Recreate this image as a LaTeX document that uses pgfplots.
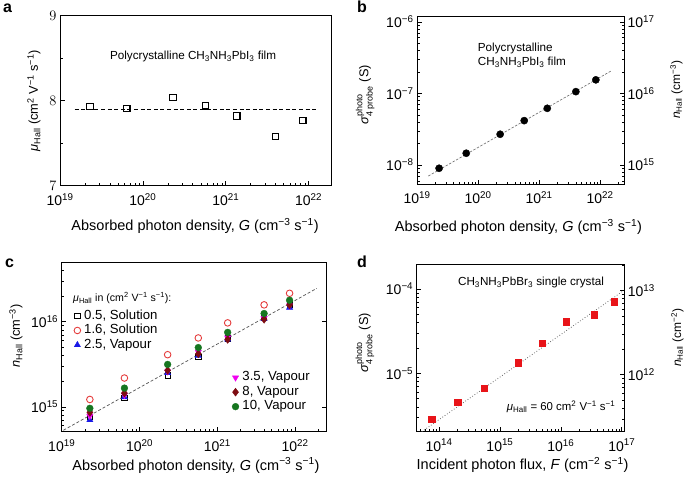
\documentclass[border=0pt]{standalone}
\usepackage{fontspec}
\setmainfont{Liberation Sans}
\usepackage{amsmath}
\usepackage{pgfplots}
\pgfplotsset{compat=1.18}

\definecolor{cred}{RGB}{228,60,60}
\definecolor{sqred}{RGB}{232,20,25}
\definecolor{cblue}{RGB}{25,25,230}
\definecolor{cmag}{RGB}{240,0,240}
\definecolor{cdia}{RGB}{125,12,18}
\definecolor{cgreen}{RGB}{22,118,32}
\definecolor{lgray}{RGB}{105,105,105}

\newcommand\fsz[1]{\fontsize{#1}{#1}\selectfont}
\newcommand\tp[1]{10\textsuperscript{#1}}
\newcommand\mh{\textit{μ}\textsubscript{Hall}}
\newcommand\nh{\textit{n}\textsubscript{Hall}}
\newcommand\sig{\textit{σ}$^{\text{photo}}_{\text{4 probe}}$}
\newcommand\units{(cm\textsuperscript{2} V\textsuperscript{−1} s\textsuperscript{−1})}
\newcommand\Gx{Absorbed photon density, \textit{G} (cm\textsuperscript{−3} s\textsuperscript{−1})}

\pgfplotsset{
  panel/.style={scale only axis, anchor=south west,
    axis line style={line width=0.8pt},
    every tick/.style={black, line width=0.6pt},
    major tick length=4.5pt, minor tick length=2.5pt,
    tick label style={font=\fsz{14}},
    xticklabel style={yshift=-4pt},
    xlabel style={anchor=center, font=\fsz{14.5}},
    ylabel style={anchor=center, font=\fsz{12.8}}},
  gx/.style={xmin=1e19,
    xtick={1e19,1e20,1e21,1e22},
    xticklabels={\tp{19},\tp{20},\tp{21},\tp{22}}},
  leg/.style={legend cell align=left,
    legend style={draw=none, fill=none, inner sep=0pt, column sep=2pt,
      font=\fsz{13.2},
      nodes={text height=8.8pt, text depth=2.7pt, inner sep=1.5pt}},
    legend image code/.code={\draw[mark repeat=2,mark phase=2,##1]
      plot coordinates {(0pt,0pt)(4pt,0pt)(8pt,0pt)};}}
}

\begin{document}
\begin{tikzpicture}
\useasboundingbox (0,0) rectangle (685pt,-477pt);

% ---------- a ----------
\begin{axis}[panel, xmode=log, gx, at={(60pt,-185.7pt)}, width=271.7pt, height=170pt,
  xmax=1.9e22, ymin=7, ymax=9, tick pos=left,
  minor xtick={2e19,3e19,4e19,5e19,6e19,7e19,8e19,9e19,
      2e20,3e20,4e20,5e20,6e20,7e20,8e20,9e20,
      2e21,3e21,4e21,5e21,6e21,7e21,8e21,9e21},
  ytick={7,8,9}, minor ytick={7.5,8.5},
  xlabel={\Gx}, ylabel={\mh\ \units},
  xlabel style={at={(axis description cs:0.497,-0.235)}},
  ylabel style={at={(axis description cs:-0.096,0.5)}}]
\addplot[black, line width=0.9pt, dash pattern=on 4pt off 2.6pt]
  coordinates {(1.5e19,7.895)(1.3e22,7.895)};
\addplot[only marks, mark=square, mark size=3.2pt,
  mark options={black, line width=1.1pt}]
  coordinates {(2.3e19,7.93)(6.4e19,7.91)(2.3e20,8.04)(5.7e20,7.94)
    (1.36e21,7.82)(4.0e21,7.58)(8.5e21,7.77)};
\end{axis}

% ---------- b ----------
\begin{axis}[panel, xmode=log, ymode=log, gx, at={(417pt,-184pt)}, width=207pt, height=168pt,
  xmax=2.46e22, ymin=5.42e-9, ymax=1.21e-6, tick pos=left,
  minor xtick={2e19,3e19,4e19,5e19,6e19,7e19,8e19,9e19,
      2e20,3e20,4e20,5e20,6e20,7e20,8e20,9e20,
      2e21,3e21,4e21,5e21,6e21,7e21,8e21,9e21,2e22},
  ytick={1e-8,1e-7,1e-6}, yticklabels={\tp{−8},\tp{−7},\tp{−6}},
  minor ytick={6e-9,7e-9,8e-9,9e-9,2e-8,3e-8,4e-8,5e-8,6e-8,7e-8,8e-8,9e-8,
    2e-7,3e-7,4e-7,5e-7,6e-7,7e-7,8e-7,9e-7},
  xlabel={\Gx}, ylabel={\sig\ (S)},
  xlabel style={at={(axis description cs:0.49,-0.256)}},
  ylabel style={at={(axis description cs:-0.25,0.53)}}]
\addplot[lgray, line width=0.6pt, dash pattern=on 2.5pt off 1.5pt]
  coordinates {(1.53e19,7.0e-9)(1.55e22,2.09e-7)};
\addplot[only marks, mark=*, mark size=3.6pt, black]
  coordinates {(2.3e19,9.0e-9)(6.4e19,1.46e-8)(2.3e20,2.69e-8)(5.7e20,4.17e-8)
    (1.36e21,6.2e-8)(4.0e21,1.06e-7)(8.5e21,1.55e-7)};
\end{axis}
\begin{axis}[panel, xmode=log, ymode=log, at={(417pt,-184pt)}, width=207pt, height=168pt,
  xmin=1e19, xmax=2.46e22, hide x axis, axis y line*=right,
  ymin=5.42e14, ymax=1.21e17,
  ytick={1e15,1e16,1e17}, yticklabels={\tp{15},\tp{16},\tp{17}},
  minor ytick={6e14,7e14,8e14,9e14,2e15,3e15,4e15,5e15,6e15,7e15,8e15,9e15,
    2e16,3e16,4e16,5e16,6e16,7e16,8e16,9e16},
  ylabel={\nh\ (cm\textsuperscript{−3})},
  ylabel style={at={(axis description cs:1.253,0.56)}, font=\fsz{12}}]
\addplot[draw=none] coordinates {(1e20,1e16)};
\end{axis}

% ---------- c ----------
\begin{axis}[panel, xmode=log, ymode=log, gx, leg, at={(61.7pt,-431.7pt)}, width=264.3pt, height=169.4pt,
  xmax=2.5e22, ymin=5.1e14, ymax=5e16, tick pos=left,
  minor xtick={2e19,3e19,4e19,5e19,6e19,7e19,8e19,9e19,
      2e20,3e20,4e20,5e20,6e20,7e20,8e20,9e20,
      2e21,3e21,4e21,5e21,6e21,7e21,8e21,9e21,2e22},
  ytick={1e15,1e16}, yticklabels={\tp{15},\tp{16}},
  minor ytick={6e14,7e14,8e14,9e14,2e15,3e15,4e15,5e15,6e15,7e15,8e15,9e15,
    2e16,3e16,4e16},
  xlabel={\Gx}, ylabel={\nh\ (cm\textsuperscript{−3})},
  xlabel style={at={(axis description cs:0.508,-0.2)}},
  ylabel style={at={(axis description cs:-0.173,0.565)}},
  legend style={at={(axis description cs:0.046,0.727)}, anchor=north west}]
\addplot[forget plot, lgray!80!black, line width=0.7pt, dash pattern=on 3pt off 2pt]
  coordinates {(1.05e19,5.3e14)(1.9e22,2.47e16)};
\addplot[only marks, mark=square, mark size=2.7pt,
  mark options={black, line width=0.7pt}]
  coordinates {(2.3e19,7.6e14)(6.4e19,1.27e15)(2.3e20,2.35e15)(5.7e20,3.84e15)
    (1.36e21,6.4e15)(4.0e21,1.12e16)(8.5e21,1.6e16)};
\addlegendentry{0.5, Solution}
\addplot[only marks, mark=o, mark size=3.3pt,
  mark options={cred, line width=0.9pt}]
  coordinates {(2.3e19,1.22e15)(6.4e19,2.18e15)(2.3e20,4.1e15)(5.7e20,6.45e15)
    (1.36e21,9.7e15)(4.0e21,1.58e16)(8.5e21,2.16e16)};
\addlegendentry{1.6, Solution}
\addplot[only marks, mark=triangle*, mark size=3.6pt, cblue]
  coordinates {(2.3e19,7.0e14)(6.4e19,1.3e15)(2.3e20,2.5e15)(5.7e20,4.0e15)
    (1.36e21,6.2e15)(4.0e21,1.08e16)(8.5e21,1.47e16)};
\addlegendentry{2.5, Vapour}
\end{axis}
\begin{axis}[panel, xmode=log, ymode=log, leg, at={(61.7pt,-431.7pt)}, width=264.3pt, height=169.4pt,
  xmin=1e19, xmax=2.5e22, hide x axis, axis y line*=right,
  ymin=5.1e14, ymax=5e16,
  ytick={1e15,1e16}, yticklabels={}, minor y tick style={draw=none},
  legend style={at={(axis description cs:0.644,0.363)}, anchor=north west}]
\addplot[only marks, mark=triangle*, mark size=3.6pt, cmag,
  mark options={rotate=180}]
  coordinates {(2.3e19,7.8e14)(6.4e19,1.38e15)(2.3e20,2.6e15)(5.7e20,4.4e15)
    (1.36e21,6.5e15)(4.0e21,1.1e16)(8.5e21,1.55e16)};
\addlegendentry{3.5, Vapour}
\addplot[only marks, mark=diamond*, mark size=4pt, cdia]
  coordinates {(2.3e19,8.6e14)(6.4e19,1.45e15)(2.3e20,2.68e15)(5.7e20,4.2e15)
    (1.36e21,6.2e15)(4.0e21,1.07e16)(8.5e21,1.58e16)};
\addlegendentry{8, Vapour}
\addplot[only marks, mark=*, mark size=3.4pt, cgreen]
  coordinates {(2.3e19,9.6e14)(6.4e19,1.66e15)(2.3e20,3.15e15)(5.7e20,4.97e15)
    (1.36e21,7.5e15)(4.0e21,1.25e16)(8.5e21,1.79e16)};
\addlegendentry{10, Vapour}
\end{axis}

% ---------- d ----------
\begin{axis}[panel, xmode=log, ymode=log, at={(416.7pt,-431.7pt)}, width=207.6pt, height=167.7pt,
  xmin=4.3e13, xmax=1.1e17, ymin=2.03e-6, ymax=1.98e-4,
  tick pos=left,
  xtick={1e14,1e15,1e16,1e17}, xticklabels={\tp{14},\tp{15},\tp{16},\tp{17}},
  minor xtick={5e13,6e13,7e13,8e13,9e13,2e14,3e14,4e14,5e14,6e14,7e14,8e14,9e14,
    2e15,3e15,4e15,5e15,6e15,7e15,8e15,9e15,2e16,3e16,4e16,5e16,6e16,7e16,8e16,9e16},
  ytick={1e-5,1e-4}, yticklabels={\tp{−5},\tp{−4}},
  minor ytick={3e-6,4e-6,5e-6,6e-6,7e-6,8e-6,9e-6,2e-5,3e-5,4e-5,5e-5,6e-5,7e-5,8e-5,9e-5},
  xlabel={Incident photon flux, \textit{F} (cm\textsuperscript{−2} s\textsuperscript{−1})},
  ylabel={\sig\ (S)},
  xlabel style={at={(axis description cs:0.51,-0.196)}},
  ylabel style={at={(axis description cs:-0.249,0.53)}}]
\addplot[lgray, line width=0.8pt, dotted]
  coordinates {(5.2e13,2.03e-6)(1.1e17,9.7e-5)};
\addplot[only marks, mark=square*, mark size=3.3pt, sqred]
  coordinates {(7.6e13,2.87e-6)(2.03e14,4.57e-6)(5.5e14,6.64e-6)(2.0e15,1.34e-5)
    (4.97e15,2.27e-5)(1.23e16,4.09e-5)(3.55e16,4.92e-5)(7.55e16,7.08e-5)};
\end{axis}
\begin{axis}[panel, xmode=log, ymode=log, at={(416.7pt,-431.7pt)}, width=207.6pt, height=167.7pt,
  xmin=4.3e13, xmax=1.1e17, hide x axis, axis y line*=right,
  ymin=2.11e11, ymax=2.06e13,
  ytick={1e12,1e13}, yticklabels={\tp{12},\tp{13}},
  minor ytick={3e11,4e11,5e11,6e11,7e11,8e11,9e11,2e12,3e12,4e12,5e12,6e12,
    7e12,8e12,9e12,2e13},
  ylabel={\nh\ (cm\textsuperscript{−2})},
  ylabel style={at={(axis description cs:1.256,0.56)}, font=\fsz{12}}]
\addplot[draw=none] coordinates {(1e15,1e12)};
\end{axis}

% ---------- texts ----------
\node[font=\bfseries\fsz{16}, anchor=base west, inner sep=0pt] at (3pt,-12pt) {a};
\node[font=\bfseries\fsz{16}, anchor=base west, inner sep=0pt] at (357pt,-12pt) {b};
\node[font=\bfseries\fsz{16}, anchor=base west, inner sep=0pt] at (5pt,-267pt) {c};
\node[font=\bfseries\fsz{16}, anchor=base west, inner sep=0pt] at (357pt,-267pt) {d};
\node[font=\fsz{11.7}, anchor=base, inner sep=0pt] at (193pt,-59.2pt)
  {Polycrystalline CH\textsubscript{3}NH\textsubscript{3}PbI\textsubscript{3} film};
\node[font=\fsz{11.7}, anchor=base west, inner sep=0pt] at (477.7pt,-51.9pt)
  {Polycrystalline};
\node[font=\fsz{11.7}, anchor=base west, inner sep=0pt] at (477.7pt,-65.9pt)
  {CH\textsubscript{3}NH\textsubscript{3}PbI\textsubscript{3} film};
\node[font=\fsz{10.6}, anchor=base west, inner sep=0pt] at (73pt,-301.5pt)
  {\mh\ in \units:};
\node[font=\fsz{11.7}, anchor=base, inner sep=0pt] at (531pt,-285.9pt)
  {CH\textsubscript{3}NH\textsubscript{3}PbBr\textsubscript{3} single crystal};
\node[font=\fsz{11.4}, anchor=base west, inner sep=0pt] at (506.7pt,-410.2pt)
  {\mh\ = 60 cm\textsuperscript{2} V\textsuperscript{−1} s\textsuperscript{−1}};
\end{tikzpicture}
\end{document}
